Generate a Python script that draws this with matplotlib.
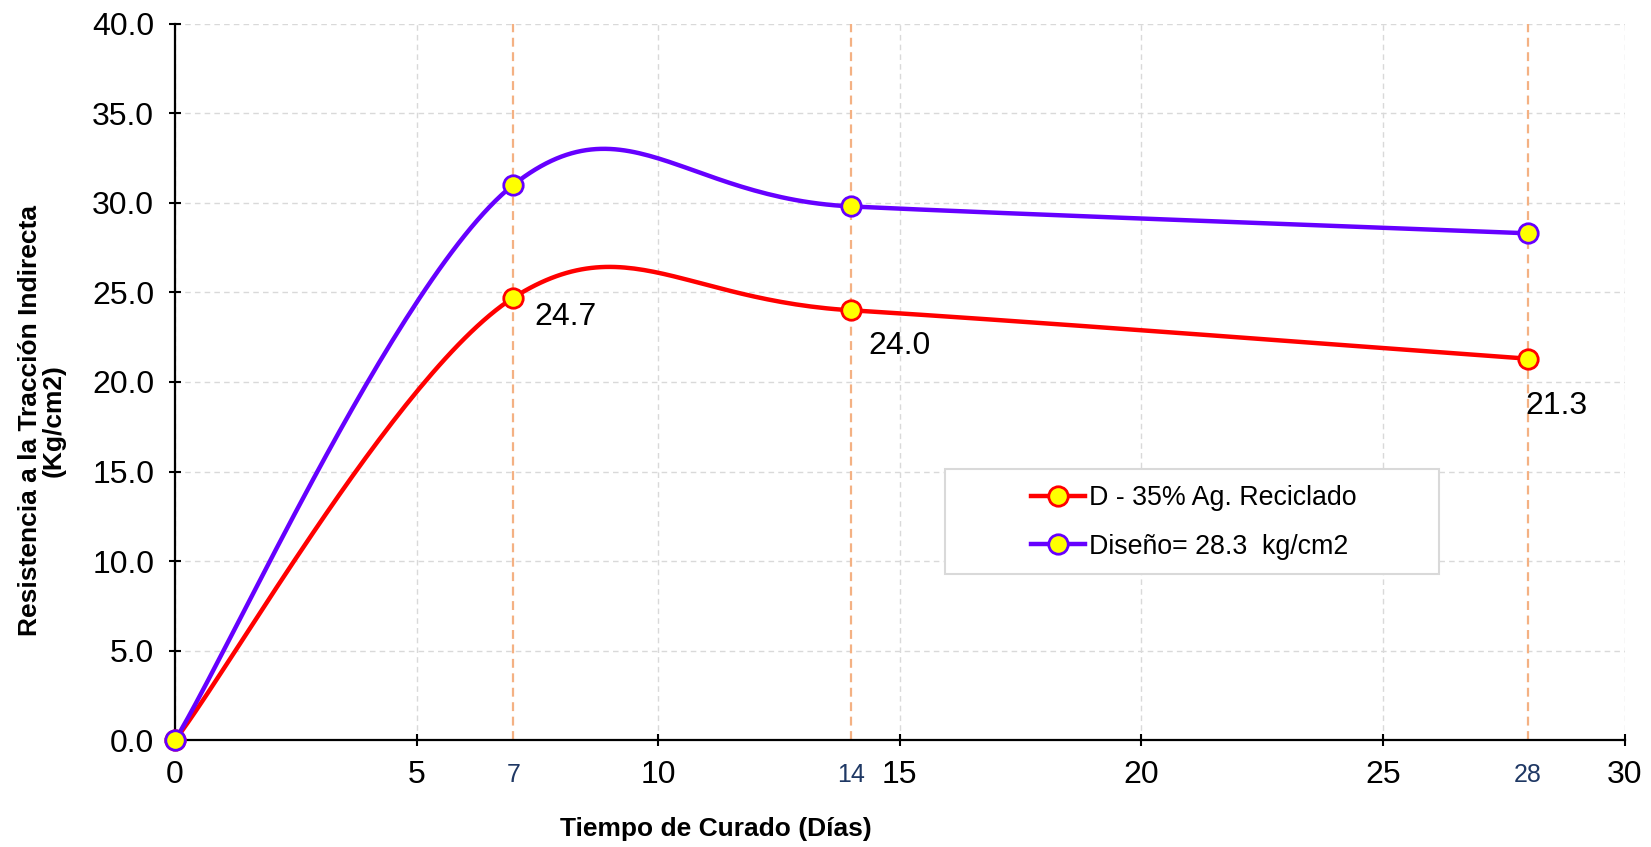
import numpy as np
import matplotlib.pyplot as plt
from matplotlib.lines import Line2D
from matplotlib.patches import Rectangle

plt.rcParams['font.family'] = ['Liberation Sans', 'DejaVu Sans']

# data
dias = [0, 7, 14, 28]
reciclado = [0.0, 24.7, 24.0, 21.3]
diseno = [0.0, 31.0, 29.8, 28.3]
etiquetas = ['24.7', '24.0', '21.3']
nombre_reciclado = 'D - 35% Ag. Reciclado'
nombre_diseno = 'Diseño= 28.3  kg/cm2'


def suavizar(x, y, n=60):
    # excel-like smoothed line (catmull-rom as cubic bezier)
    p = np.column_stack([x, y]).astype(float)
    p = np.vstack([p[0], p, p[-1]])
    t = np.linspace(0, 1, n)[:, None]
    partes = []
    for i in range(1, len(p) - 2):
        p0, p3 = p[i], p[i + 1]
        c1 = p0 + (p[i + 1] - p[i - 1]) / 6.0
        c2 = p3 - (p[i + 2] - p[i]) / 6.0
        b = (1 - t) ** 3 * p0 + 3 * (1 - t) ** 2 * t * c1 + 3 * (1 - t) * t ** 2 * c2 + t ** 3 * p3
        partes.append(b)
    b = np.vstack(partes)
    return b[:, 0], b[:, 1]


fig = plt.figure(figsize=(16.51, 8.47), dpi=100)
ax = fig.add_axes([0.106, 0.126, 0.878, 0.846])

rojo = '#FF0000'
morado = '#6600FF'
amarillo = '#FFFF00'

ax.set_xlim(0, 30)
ax.set_ylim(0, 40)
ax.set_xticks(np.arange(0, 31, 5))
ax.set_yticks(np.arange(0, 41, 5))
ax.set_yticklabels(['%.1f' % v for v in np.arange(0, 41, 5)])
ax.set_xticks(dias[1:], minor=True)
ax.set_xticklabels([str(d) for d in dias[1:]], minor=True)

ax.grid(True, which='major', color='#D9D9D9', linestyle=(0, (4, 3)), linewidth=1.0)
ax.set_axisbelow(True)

ax.vlines(dias[1:], 0, 40, colors='#F4B183', linestyles=(0, (4, 2.5)), linewidth=1.6, zorder=1)

for yy, c in [(reciclado, rojo), (diseno, morado)]:
    xs, ys = suavizar(dias, yy)
    ax.plot(xs, ys, color=c, lw=3.2, zorder=3, clip_on=False)
    ax.plot(dias, yy, ls='none', marker='o', ms=14, mfc=amarillo, mec=c, mew=2, zorder=4, clip_on=False)

offsets = [(15, -14), (12, -26), (-2, -34)]
for d, v, s, off in zip(dias[1:], reciclado[1:], etiquetas, offsets):
    ax.annotate(s, (d, v), xytext=off, textcoords='offset points', fontsize=23,
                ha='left', va='center')

for s in ['top', 'right']:
    ax.spines[s].set_visible(False)
for s in ['left', 'bottom']:
    ax.spines[s].set_linewidth(1.6)

ax.tick_params(which='major', direction='inout', length=8, width=1.5, labelsize=23, pad=10)
ax.tick_params(axis='y', which='major', pad=11)
ax.tick_params(axis='x', which='minor', length=0, labelsize=18, labelcolor='#1F3864', pad=16)

ax.set_xlabel('Tiempo de Curado (Días)', fontsize=19, fontweight='bold')
ax.xaxis.label.set_va('center')
ax.xaxis.set_label_coords(0.373, -0.124)
ax.set_ylabel('Resistencia a la Tracción Indirecta\n(Kg/cm2)', fontsize=19,
              fontweight='bold', linespacing=1.0)
ax.yaxis.label.set_va('center')
ax.yaxis.set_label_coords(-0.092, 0.446)

ax.add_patch(Rectangle((0.531, 0.232), 0.341, 0.146, transform=ax.transAxes,
                       facecolor='white', edgecolor='#D9D9D9', lw=1.5, zorder=2))
handles = [
    Line2D([], [], color=rojo, lw=3.2, marker='o', ms=14, mfc=amarillo, mec=rojo, mew=2),
    Line2D([], [], color=morado, lw=3.2, marker='o', ms=14, mfc=amarillo, mec=morado, mew=2),
]
leg = ax.legend(handles, [nombre_reciclado, nombre_diseno], loc='center',
                bbox_to_anchor=(0.703, 0.304), frameon=False, fontsize=19.3,
                handlelength=2.0, handletextpad=0.15, labelspacing=0.85)
leg.set_zorder(5)

fig.savefig('out.png', dpi=100)
